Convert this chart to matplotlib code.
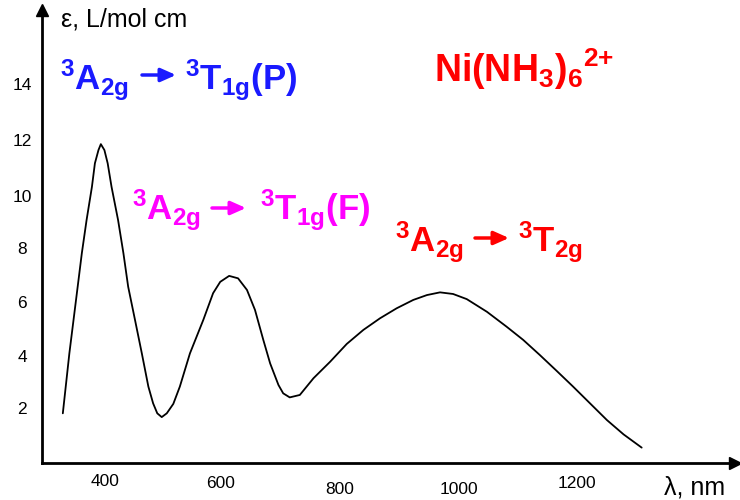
import matplotlib
matplotlib.use("Agg")
import matplotlib.pyplot as plt

plt.rcParams['font.family'] = ['Liberation Sans', 'DejaVu Sans']
plt.rcParams['mathtext.fontset'] = 'custom'
plt.rcParams['mathtext.rm'] = 'Liberation Sans'
plt.rcParams['mathtext.it'] = 'Liberation Sans:italic'
plt.rcParams['mathtext.bf'] = 'Liberation Sans:bold'

# ---- data ----
wavelength = [329, 340, 354, 361, 369, 378, 383, 389, 393, 399, 404.5, 411, 422, 431, 439,
              450.5, 462, 473, 481, 488, 495.5, 504, 515, 526, 543, 565.5, 582, 594, 609,
              624, 639, 652.5, 666.5, 678, 692, 700, 711, 728, 751, 779, 807, 835, 863,
              891, 919, 942, 964, 986, 1009, 1043, 1076, 1104, 1132, 1160, 1188, 1216.5,
              1245, 1273, 1303.5]
epsilon = [1.84, 4.06, 6.53, 7.77, 9.0, 10.23, 11.10, 11.59, 11.81, 11.59, 11.10, 10.23, 9.0,
           7.77, 6.53, 5.30, 4.06, 2.83, 2.21, 1.84, 1.70, 1.84, 2.19, 2.83, 4.06, 5.30, 6.29,
           6.71, 6.93, 6.84, 6.41, 5.67, 4.56, 3.69, 2.89, 2.58, 2.43, 2.52, 3.14, 3.75, 4.41,
           4.93, 5.36, 5.73, 6.04, 6.22, 6.32, 6.26, 6.07, 5.60, 5.05, 4.56, 4.0, 3.42, 2.83,
           2.21, 1.59, 1.06, 0.57]
xtick_values = [400, 600, 800, 1000, 1200]
ytick_values = [2, 4, 6, 8, 10, 12, 14]
y_label = 'ε, L/mol cm'
x_label = 'λ, nm'
band_labels = [
    (r'$\mathbf{{}^3A_{2g}}$', r'$\mathbf{{}^3T_{1g}(P)}$', '#1a1aff'),
    (r'$\mathbf{{}^3A_{2g}}$', r'$\mathbf{{}^3T_{1g}(F)}$', '#ff00ff'),
    (r'$\mathbf{{}^3A_{2g}}$', r'$\mathbf{{}^3T_{2g}}$', '#ff0000'),
]
complex_label = r'$\mathbf{Ni(NH_3)_6{}^{2{+}}}$'

# ---- layout ----
W, H = 740, 500
fig = plt.figure(figsize=(W / 100, H / 100), dpi=100)
x0, y0, x1, y1 = 42, 463, 735, 10  # axis origin and arrow tips in pixels
ax = fig.add_axes([x0 / W, 1 - y0 / H, (x1 - x0) / W, (y0 - y1) / H])
ppn = 0.594  # pixels per nm
ppe = 27.0   # pixels per epsilon unit
ax.set_xlim(400 + (x0 - 105) / ppn, 400 + (x1 - 105) / ppn)
ax.set_ylim(0, (y0 - y1) / ppe)
for s in ['top', 'right']:
    ax.spines[s].set_visible(False)
for s in ['left', 'bottom']:
    ax.spines[s].set_linewidth(2.0)
ax.set_xticks([])
ax.set_yticks([])
ax.patch.set_alpha(0)
ax.plot(1, 0, '>k', transform=ax.transAxes, clip_on=False, markersize=9)
ax.plot(0, 1, '^k', transform=ax.transAxes, clip_on=False, markersize=9)

ax.plot(wavelength, epsilon, color='black', lw=1.3, clip_on=False,
        solid_joinstyle='round', solid_capstyle='round')

def fp(x, y):
    return (x / W, 1 - y / H)

# tick labels
y_offsets_px = [0, 3, 3, 3, 4, 3, 0]
for v, dy in zip(ytick_values, y_offsets_px):
    ypx = y0 - v * ppe + dy
    fig.text(*fp(22, ypx), str(v), ha='center', va='center', fontsize=12.5)
x_label_px = [(105, 482), (221, 484), (340, 490), (459, 489), (577, 484)]
for v, (xp, yp) in zip(xtick_values, x_label_px):
    fig.text(*fp(xp, yp), str(v), ha='center', va='center', fontsize=12.5)

fig.text(*fp(61, 19), y_label, ha='left', va='center', fontsize=18)
fig.text(*fp(664, 487), x_label, ha='left', va='center', fontsize=18)

# band assignment labels
pos = [((60, 90), (142, 176, 75), (185, 90)),
       ((132, 220), (212, 246, 208), (260, 220)),
       ((395, 252), (475, 509, 238), (518, 252))]
for (left, right, col), (lp, ap, rp) in zip(band_labels, pos):
    fig.text(*fp(*lp), left, color=col, fontsize=25, ha='left', va='baseline')
    fig.text(*fp(*rp), right, color=col, fontsize=25, ha='left', va='baseline')
    ax.annotate('', xy=fp(ap[1], ap[2]), xytext=fp(ap[0], ap[2]),
                xycoords='figure fraction', textcoords='figure fraction',
                arrowprops=dict(arrowstyle='-|>,head_length=0.9,head_width=0.4',
                                color=col, lw=2.5, shrinkA=0, shrinkB=0))

fig.text(*fp(434, 82), complex_label, color='#ff0000', fontsize=27, ha='left', va='baseline')

fig.savefig('out.png', dpi=100)
